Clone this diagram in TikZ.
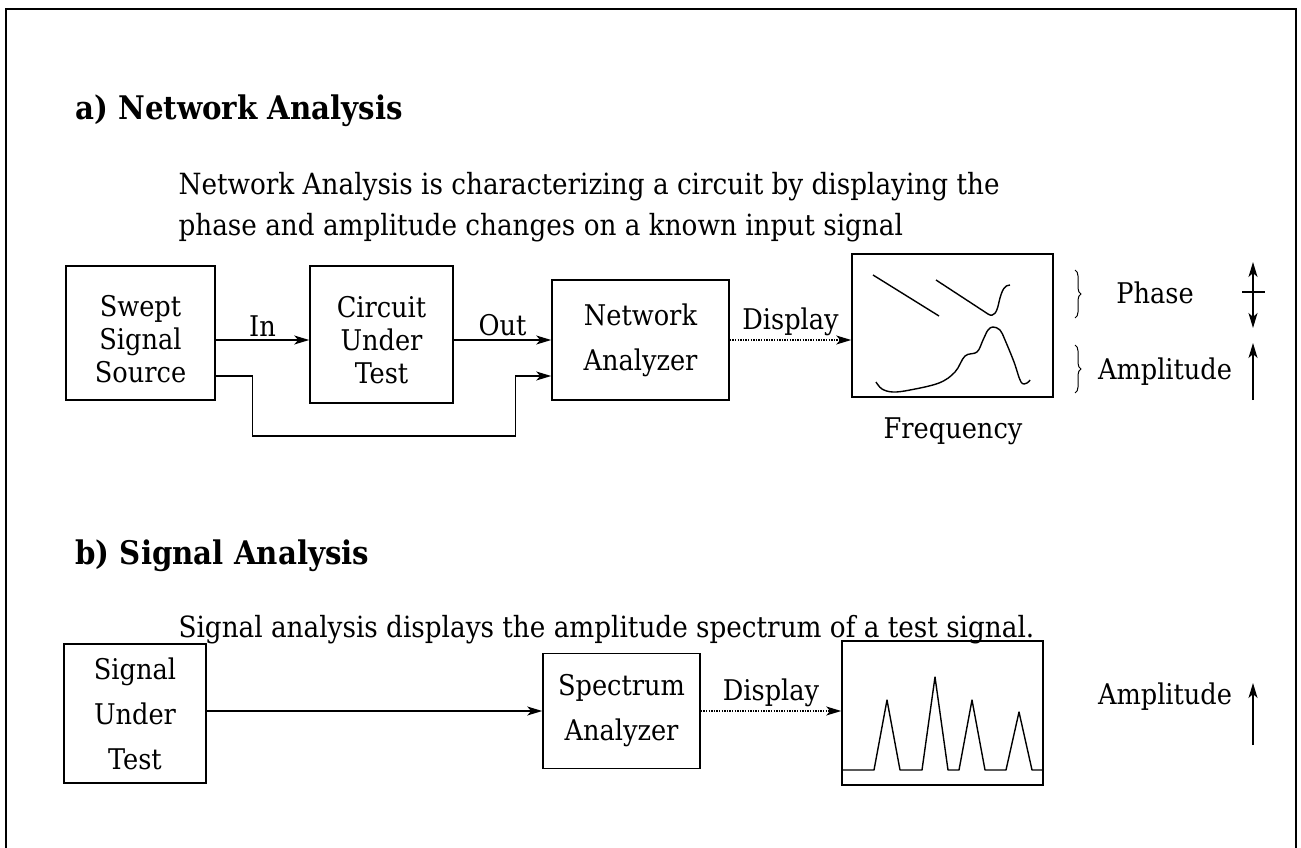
\documentclass[tikz,border=0pt]{standalone}
\usepackage{fontspec}
\setmainfont{DejaVu Serif Condensed}
\usetikzlibrary{arrows.meta,decorations.pathreplacing,positioning}
\begin{document}
\begin{tikzpicture}[x=1pt,y=-1pt,font=\fontsize{28.5}{33}\selectfont]
    % Define styles for nodes and arrows
    \tikzstyle{box} = [rectangle, draw=black, line width=1.6pt, align=center, inner sep=0pt]
    \tikzstyle{screen} = [rectangle, draw=black, line width=1.6pt, inner sep=0pt]
    \tikzstyle{wide} = [font=\fontsize{28.5}{45}\selectfont]
    \tikzstyle{arrow} = [line width=1.3pt, -{Stealth[length=15pt,width=9pt,inset=4pt]}]
    \tikzstyle{dotarrow} = [arrow, dash pattern=on 1.3pt off 1.3pt]
    \tikzstyle{heading} = [anchor=west, font=\fontsize{32.5}{38}\selectfont\bfseries]
    \tikzstyle{remark} = [anchor=west, align=left, font=\fontsize{29.2}{41}\selectfont]
    \tikzstyle{trace} = [line width=1.4pt, line join=round]
    \tikzstyle{bracket} = [line width=1pt, decorate, decoration={brace, amplitude=6pt}]

    \useasboundingbox (0,0) rectangle (1301,848);
    \draw[line width=1.8pt] (6,848) -- (6,9) -- (1296,9) -- (1296,848);

    % a) network analysis
    \node (titleA) [heading] at (72,111) {a) Network Analysis};
    \node (textA) [remark] at (175,207) {Network Analysis is characterizing a circuit by displaying the\\phase and amplitude changes on a known input signal};

    \node (source) [box, minimum width=149pt, minimum height=134pt] at (140.5,333) {\rule{0pt}{34pt}Swept\\Signal\\Source};
    \node (circuit) [box, minimum width=143pt, minimum height=137pt] at (381.5,334.5) {\rule{0pt}{32pt}Circuit\\Under\\Test};
    \node (analyzer) [box, wide, minimum width=177pt, minimum height=120pt] at (640.5,340) {Network\\Analyzer};
    \node (display) [screen, minimum width=201pt, minimum height=143pt] at (952.5,325.5) {};
    \node (freq) at (953,431) {Frequency};

    \node (phase) at (1155,293) {Phase};
    \node (amp) at (1165,372) {Amplitude};

    % Arrows
    \draw [arrow] (source.east |- analyzer.west) -- (circuit.west |- analyzer.west) node[midway, above] {In};
    \draw [arrow] (circuit.east |- analyzer.west) -- (analyzer.west) node[midway, above] {Out};
    \coordinate (bypass) at ([yshift=-36pt]analyzer.west);
    \draw [arrow] (source.east |- bypass) -- ++(37,0) -- ++(0,60) -- ++(263,0) -- ++(0,-60) -- (bypass);
    \draw [dotarrow] (analyzer.east) -- (display.west |- analyzer.east) node[midway, above] {Display};

    % screen traces
    \draw [trace] (873,275) -- (939,316);
    \draw [trace] (936,280) -- (988,314) .. controls (994,318) and (997,312) .. (999,302) .. controls (1002,289) and (1005,285) .. (1010,285);
    \draw [trace] plot[smooth, tension=0.6] coordinates {(876,382) (882,389) (893,392) (910,390) (939,383) (955,372) (965,356) (977,352) (983,340) (988,330) (993,327) (1000,330) (1005,340) (1014,362) (1021,382) (1027,383) (1030,380)};

    \draw [bracket] (1075,270) -- (1075,318);
    \draw [bracket] (1075,345) -- (1075,393);
    \draw [line width=1.3pt, {Stealth[length=15pt,width=9pt,inset=4pt]}-{Stealth[length=15pt,width=9pt,inset=4pt]}] (1253,262) -- (1253,328);
    \draw [line width=1.3pt] (1242,292) -- (1265,292);
    \draw [arrow] (1253,400) -- (1253,343);

    % b) signal analysis
    \node (titleB) [heading] at (72,556) {b) Signal Analysis};
    \node (textB) [remark] at (175,630) {Signal analysis displays the amplitude spectrum of a test signal.};

    \node (signal) [box, wide, minimum width=142pt, minimum height=139pt] at (135,713.5) {Signal\\Under\\Test};
    \node (spectrum) [box, wide, minimum width=157pt, minimum height=115pt] at (621.5,711) {Spectrum\\Analyzer};
    \node (specscreen) [screen, minimum width=201pt, minimum height=144pt] at (942.5,713) {};
    \node (ampB) at (1165,697) {Amplitude};

    \draw [arrow] (signal.east |- spectrum.west) -- (spectrum.west);
    \draw [dotarrow] (spectrum.east) -- (specscreen.west |- spectrum.east) node[midway, above] {Display};
    \draw [trace] (842,770) -- (874,770) -- (887,700) -- (900,770) -- (922,770) -- (935,677) -- (948,770) -- (959,770) -- (972,700) -- (985,770) -- (1006,770) -- (1019,712) -- (1032,770) -- (1043,770);
    \draw [arrow] (1253,745) -- (1253,683);
\end{tikzpicture}
\end{document}
